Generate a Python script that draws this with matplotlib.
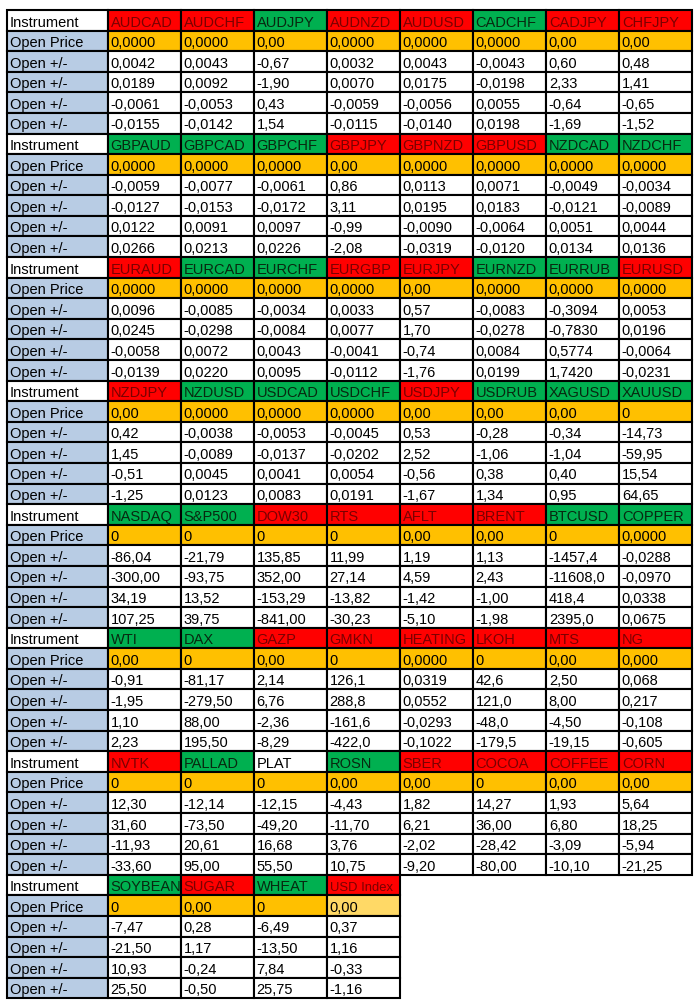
import matplotlib.pyplot as plt
from matplotlib.patches import Rectangle

plt.rcParams['font.family'] = ['Liberation Sans', 'DejaVu Sans']

# instruments per block, with header colour: R = red, G = green, W = white
names = [
    ['AUDCAD', 'AUDCHF', 'AUDJPY', 'AUDNZD', 'AUDUSD', 'CADCHF', 'CADJPY', 'CHFJPY'],
    ['GBPAUD', 'GBPCAD', 'GBPCHF', 'GBPJPY', 'GBPNZD', 'GBPUSD', 'NZDCAD', 'NZDCHF'],
    ['EURAUD', 'EURCAD', 'EURCHF', 'EURGBP', 'EURJPY', 'EURNZD', 'EURRUB', 'EURUSD'],
    ['NZDJPY', 'NZDUSD', 'USDCAD', 'USDCHF', 'USDJPY', 'USDRUB', 'XAGUSD', 'XAUUSD'],
    ['NASDAQ', 'S&P500', 'DOW30', 'RTS', 'AFLT', 'BRENT', 'BTCUSD', 'COPPER'],
    ['WTI', 'DAX', 'GAZP', 'GMKN', 'HEATING', 'LKOH', 'MTS', 'NG'],
    ['NVTK', 'PALLAD', 'PLAT', 'ROSN', 'SBER', 'COCOA', 'COFFEE', 'CORN'],
    ['SOYBEAN', 'SUGAR', 'WHEAT', 'USD Index'],
]
trend = ['RRGRRGRR', 'GGGRRRGG', 'RGGRRGGR', 'RGGGRGGG',
         'GGRRRRGG', 'GGRRRRRR', 'RGWGRRRR', 'GRGR']

open_price = [
    ['0,0000', '0,0000', '0,00', '0,0000', '0,0000', '0,0000', '0,00', '0,00'],
    ['0,0000', '0,0000', '0,0000', '0,00', '0,0000', '0,0000', '0,0000', '0,0000'],
    ['0,0000', '0,0000', '0,0000', '0,0000', '0,00', '0,0000', '0,0000', '0,0000'],
    ['0,00', '0,0000', '0,0000', '0,0000', '0,00', '0,00', '0,00', '0'],
    ['0', '0', '0', '0', '0,00', '0,00', '0', '0,0000'],
    ['0,00', '0', '0,00', '0', '0,0000', '0', '0,00', '0,000'],
    ['0', '0', '0', '0,00', '0,00', '0', '0,00', '0,00'],
    ['0', '0,00', '0', '0,00'],
]
chg1 = [
    ['0,0042', '0,0043', '-0,67', '0,0032', '0,0043', '-0,0043', '0,60', '0,48'],
    ['-0,0059', '-0,0077', '-0,0061', '0,86', '0,0113', '0,0071', '-0,0049', '-0,0034'],
    ['0,0096', '-0,0085', '-0,0034', '0,0033', '0,57', '-0,0083', '-0,3094', '0,0053'],
    ['0,42', '-0,0038', '-0,0053', '-0,0045', '0,53', '-0,28', '-0,34', '-14,73'],
    ['-86,04', '-21,79', '135,85', '11,99', '1,19', '1,13', '-1457,4', '-0,0288'],
    ['-0,91', '-81,17', '2,14', '126,1', '0,0319', '42,6', '2,50', '0,068'],
    ['12,30', '-12,14', '-12,15', '-4,43', '1,82', '14,27', '1,93', '5,64'],
    ['-7,47', '0,28', '-6,49', '0,37'],
]
chg2 = [
    ['0,0189', '0,0092', '-1,90', '0,0070', '0,0175', '-0,0198', '2,33', '1,41'],
    ['-0,0127', '-0,0153', '-0,0172', '3,11', '0,0195', '0,0183', '-0,0121', '-0,0089'],
    ['0,0245', '-0,0298', '-0,0084', '0,0077', '1,70', '-0,0278', '-0,7830', '0,0196'],
    ['1,45', '-0,0089', '-0,0137', '-0,0202', '2,52', '-1,06', '-1,04', '-59,95'],
    ['-300,00', '-93,75', '352,00', '27,14', '4,59', '2,43', '-11608,0', '-0,0970'],
    ['-1,95', '-279,50', '6,76', '288,8', '0,0552', '121,0', '8,00', '0,217'],
    ['31,60', '-73,50', '-49,20', '-11,70', '6,21', '36,00', '6,80', '18,25'],
    ['-21,50', '1,17', '-13,50', '1,16'],
]
chg3 = [
    ['-0,0061', '-0,0053', '0,43', '-0,0059', '-0,0056', '0,0055', '-0,64', '-0,65'],
    ['0,0122', '0,0091', '0,0097', '-0,99', '-0,0090', '-0,0064', '0,0051', '0,0044'],
    ['-0,0058', '0,0072', '0,0043', '-0,0041', '-0,74', '0,0084', '0,5774', '-0,0064'],
    ['-0,51', '0,0045', '0,0041', '0,0054', '-0,56', '0,38', '0,40', '15,54'],
    ['34,19', '13,52', '-153,29', '-13,82', '-1,42', '-1,00', '418,4', '0,0338'],
    ['1,10', '88,00', '-2,36', '-161,6', '-0,0293', '-48,0', '-4,50', '-0,108'],
    ['-11,93', '20,61', '16,68', '3,76', '-2,02', '-28,42', '-3,09', '-5,94'],
    ['10,93', '-0,24', '7,84', '-0,33'],
]
chg4 = [
    ['-0,0155', '-0,0142', '1,54', '-0,0115', '-0,0140', '0,0198', '-1,69', '-1,52'],
    ['0,0266', '0,0213', '0,0226', '-2,08', '-0,0319', '-0,0120', '0,0134', '0,0136'],
    ['-0,0139', '0,0220', '0,0095', '-0,0112', '-1,76', '0,0199', '1,7420', '-0,0231'],
    ['-1,25', '0,0123', '0,0083', '0,0191', '-1,67', '1,34', '0,95', '64,65'],
    ['107,25', '39,75', '-841,00', '-30,23', '-5,10', '-1,98', '2395,0', '0,0675'],
    ['2,23', '195,50', '-8,29', '-422,0', '-0,1022', '-179,5', '-19,15', '-0,605'],
    ['-33,60', '95,00', '55,50', '10,75', '-9,20', '-80,00', '-10,10', '-21,25'],
    ['25,50', '-0,50', '25,75', '-1,16'],
]
row_labels = ['Instrument', 'Open Price', 'Open +/-', 'Open +/-', 'Open +/-', 'Open +/-']

head_bg = {'R': '#ff0000', 'G': '#00b050', 'W': '#ffffff'}
head_fg = {'R': '#7a0000', 'G': '#082810', 'W': '#000000'}

x0, y0 = 7, 10
label_w, col_w, row_h = 100.5, 73.05, 20.59

fig = plt.figure(figsize=(7, 10.06), dpi=100)
ax = fig.add_axes([0, 0, 1, 1])
ax.set_xlim(0, 700)
ax.set_ylim(1006, 0)
ax.axis('off')


def cell(x, y, w, text, bg, fg='black', size=10.5):
    ax.add_patch(Rectangle((x, y), w, row_h, facecolor=bg, edgecolor='black', lw=1.5))
    ax.text(x + 3, y + 16.5, text, color=fg, fontsize=size, va='baseline', ha='left')


for b in range(len(names)):
    rows = [open_price[b], chg1[b], chg2[b], chg3[b], chg4[b]]
    top = y0 + b * 6 * row_h
    for r, lab in enumerate(row_labels):
        cell(x0, top + r * row_h, label_w, lab, '#ffffff' if r == 0 else '#b8cce4')
    for c, name in enumerate(names[b]):
        x = x0 + label_w + c * col_w
        t = trend[b][c]
        cell(x, top, col_w, name, head_bg[t], head_fg[t],
             size=9.4 if name == 'USD Index' else 10.5)
        for r, vals in enumerate(rows):
            if r == 0:
                bg = '#ffd966' if name == 'USD Index' else '#ffc000'
            else:
                bg = '#ffffff'
            cell(x, top + (r + 1) * row_h, col_w, vals[c], bg)

fig.savefig('out.png', dpi=100, facecolor='white')
